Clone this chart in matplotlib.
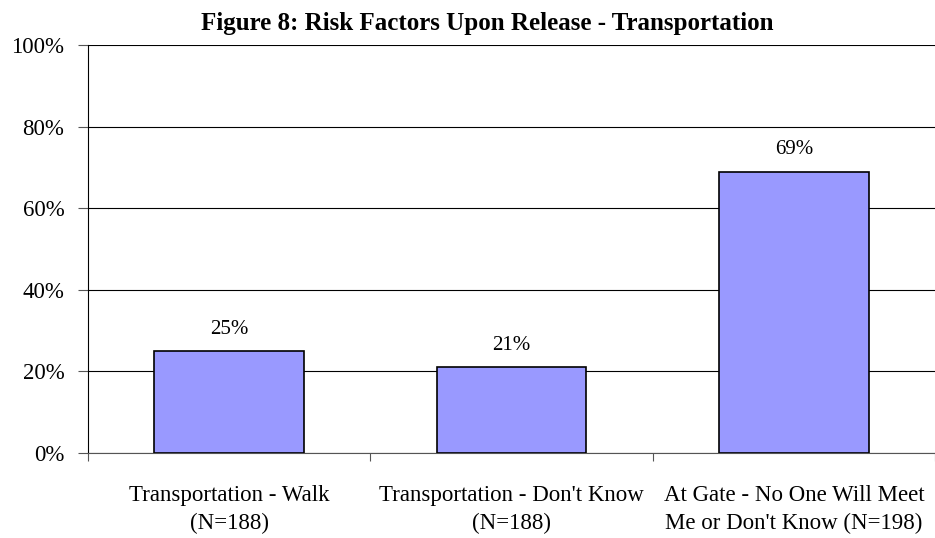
import numpy as np
import matplotlib.pyplot as plt

# chart data
categories = ['Transportation - Walk\n(N=188)',
              "Transportation - Don't Know\n(N=188)",
              "At Gate - No One Will Meet\nMe or Don't Know (N=198)"]
values = [25, 21, 69]
yticks = [0, 20, 40, 60, 80, 100]

plt.rcParams['font.family'] = 'Liberation Serif'

fig = plt.figure(figsize=(9.35, 5.38), dpi=100)
ax = fig.add_axes([0.0941, 0.158, 0.906, 0.758])

x = np.arange(len(values))
bars = ax.bar(x, values, width=0.53, color='#9999FF', edgecolor='black', linewidth=1.2, zorder=3)
for b, v in zip(bars, values):
    ax.text(b.get_x() + b.get_width() / 2, v + 3, f'{v}%', ha='center', va='bottom', fontsize=15)

ax.set_ylim(0, 100)
ax.set_xlim(-0.5, len(values) - 0.5)
ax.set_yticks(yticks)
ax.set_yticklabels([f'{t}%' for t in yticks], fontsize=16.5)
ax.yaxis.grid(True, color='black', linewidth=0.8, zorder=0)
ax.set_axisbelow(True)

# category labels between boundary ticks
ax.set_xticks(np.arange(len(values) + 1) - 0.5)
ax.set_xticklabels([])
ax.set_xticks(x, minor=True)
ax.set_xticklabels(categories, minor=True, fontsize=16.5, linespacing=1.4)
ax.tick_params(axis='x', which='minor', length=0, pad=23)
ax.tick_params(axis='x', which='major', length=6, color='#555555')
ax.tick_params(axis='y', length=7, color='#555555', pad=10)

for s in ['top', 'right']:
    ax.spines[s].set_visible(False)
ax.spines['left'].set_color('black')
ax.spines['bottom'].set_color('#555555')

fig.text(0.521, 0.957, 'Figure 8: Risk Factors Upon Release - Transportation',
         ha='center', va='center', fontsize=18, fontweight='bold')

fig.savefig('out.png', dpi=100)
